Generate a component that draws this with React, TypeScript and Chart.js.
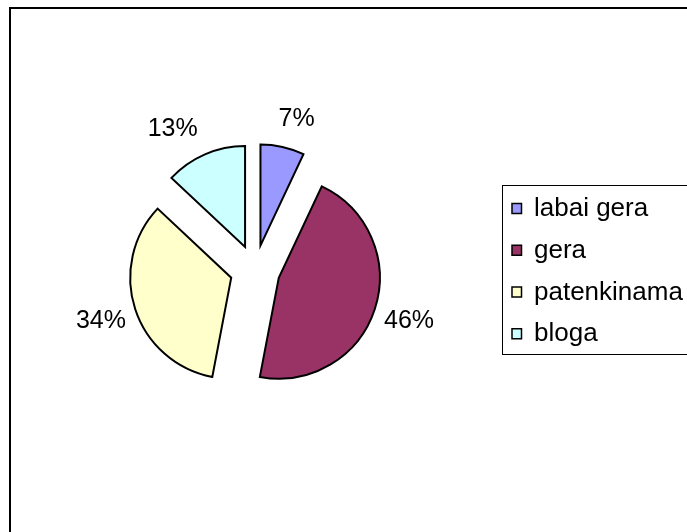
import { useEffect, useRef } from "react";
import { Chart, registerables } from "chart.js";

Chart.register(...registerables);

// ---- data ----
const categories = ["labai gera", "gera", "patenkinama", "bloga"];
const shares = [7, 46, 34, 13];
const sliceColors = ["#9999FF", "#993366", "#FFFFCC", "#CCFFFF"];

// ---- style ----
const W = 687;
const H = 532;
const FONT = '"Liberation Sans", Arial, sans-serif';
const EXPLODE = 25; // px each slice is pulled out
const total = shares.reduce((a, b) => a + b, 0);

const framePlugin = {
  id: "frame",
  beforeDraw(chart: any) {
    const ctx = chart.ctx;
    ctx.save();
    ctx.fillStyle = "#ffffff";
    ctx.fillRect(0, 0, W, H);
    ctx.strokeStyle = "#000000";
    ctx.lineWidth = 2;
    ctx.strokeRect(10, 8, W + 20, H + 20);
    ctx.restore();
  },
};

// draw every arc element pulled out along its bisector by the same distance
const explodePlugin = {
  id: "explode",
  beforeDatasetsDraw(chart: any) {
    const meta = chart.getDatasetMeta(0);
    const ctx = chart.ctx;
    meta.data.forEach((arc: any) => {
      const mid = (arc.startAngle + arc.endAngle) / 2;
      ctx.save();
      ctx.translate(Math.cos(mid) * EXPLODE, Math.sin(mid) * EXPLODE);
      arc.draw(ctx, chart.chartArea);
      ctx.restore();
    });
    return false;
  },
};

const labelPlugin = {
  id: "pctLabels",
  afterDraw(chart: any) {
    const meta = chart.getDatasetMeta(0);
    const ctx = chart.ctx;
    ctx.save();
    ctx.font = `25px ${FONT}`;
    ctx.fillStyle = "#000000";
    ctx.textAlign = "center";
    ctx.textBaseline = "alphabetic";
    meta.data.forEach((arc: any, i: number) => {
      const { x, y, startAngle, endAngle, outerRadius } = arc.getProps(
        ["x", "y", "startAngle", "endAngle", "outerRadius"],
        true
      );
      const mid = (startAngle + endAngle) / 2;
      const dx = Math.cos(mid);
      const dy = Math.sin(mid);
      const gap = 5 + 15 * Math.abs(dy);
      const R = outerRadius + EXPLODE + gap;
      const px = x + dx * R;
      const py = y + dy * R;
      const text = Math.round((shares[i] / total) * 100) + "%";
      const w = ctx.measureText(text).width;
      const h = 18;
      const cx = px + Math.sign(dx) * (w / 2) * Math.min(1, 2.5 * Math.abs(dx));
      const cy = py + Math.sign(dy) * (h / 2);
      ctx.fillText(text, cx, cy + 7.5);
    });
    ctx.restore();
  },
};

const legendPlugin = {
  id: "boxLegend",
  afterDraw(chart: any) {
    const ctx = chart.ctx;
    const labels: string[] = chart.data.labels;
    const colors: string[] = chart.data.datasets[0].backgroundColor;
    ctx.save();
    ctx.strokeStyle = "#000000";
    ctx.lineWidth = 1;
    ctx.strokeRect(502.5, 185.5, 400, 169);
    ctx.font = `26px ${FONT}`;
    ctx.textAlign = "left";
    ctx.textBaseline = "alphabetic";
    labels.forEach((lab, i) => {
      const cy = 208.5 + i * 41.75;
      ctx.fillStyle = colors[i];
      ctx.fillRect(512, cy - 5, 9.5, 10);
      ctx.strokeStyle = "#000000";
      ctx.lineWidth = 1.5;
      ctx.strokeRect(512, cy - 5, 9.5, 10);
      ctx.fillStyle = "#000000";
      ctx.fillText(lab, 534, cy + 7.5);
    });
    ctx.restore();
  },
};

export default function App() {
  const ref = useRef<HTMLCanvasElement | null>(null);
  useEffect(() => {
    if (!ref.current) return;
    const chart = new Chart(ref.current, {
      type: "pie",
      data: {
        labels: categories,
        datasets: [
          {
            data: shares,
            backgroundColor: sliceColors,
            borderColor: "#000000",
            borderWidth: 2,
            borderJoinStyle: "miter",
            offset: 0,
            hoverOffset: 0,
          } as any,
        ],
      },
      options: {
        responsive: false,
        animation: false,
        devicePixelRatio: 1,
        radius: 101,
        layout: { padding: { left: 0, right: 177, top: 8, bottom: 0 } },
        events: [],
        plugins: {
          legend: { display: false },
          tooltip: { enabled: false },
        },
      } as any,
      plugins: [framePlugin, explodePlugin, labelPlugin, legendPlugin],
    });
    return () => chart.destroy();
  }, []);
  return (
    <div style={{ position: "fixed", left: 0, top: 0, width: W, height: H }}>
      <canvas ref={ref} width={W} height={H} style={{ display: "block" }} />
    </div>
  );
}
